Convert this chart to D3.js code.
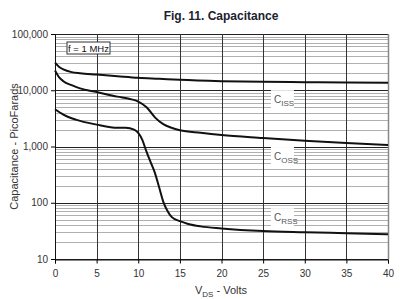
<!DOCTYPE html>
<html>
<head>
<meta charset="utf-8">
<script src="https://cdn.jsdelivr.net/npm/d3@7"></script>
<style>
  body { margin: 0; background: #fff; }
  text { font-family: "Liberation Sans", Arial, sans-serif; }
</style>
</head>
<body>
<div id="chart"></div>
<script>
// Capacitance vs drain-source voltage
var cissV = [0, 0.5, 1, 2, 3, 5, 7.5, 10, 12.5, 15, 20, 25, 30, 35, 40];
var cissC = [31000, 26000, 23500, 21000, 20000, 19000, 17800, 16700, 16000, 15300, 14500, 14100, 13900, 13700, 13600];

var cossV = [0, 0.5, 1, 2, 3, 5, 7.5, 9, 10, 11, 12, 13, 14, 15, 17.5, 20, 25, 30, 35, 40];
var cossC = [22500, 17000, 14500, 12300, 10800, 9300, 7700, 7000, 6300, 5000, 3300, 2500, 2150, 1950, 1750, 1600, 1420, 1270, 1150, 1060];

var crssV = [0, 1, 2.5, 5, 7.5, 8.5, 9.5, 10, 10.5, 11, 11.5, 12, 12.5, 13, 13.5, 14, 15, 16, 17.5, 20, 25, 30, 35, 40];
var crssC = [4600, 3700, 3000, 2450, 2150, 2150, 2000, 1750, 1300, 800, 520, 340, 190, 105, 72, 56, 47, 42, 38, 35, 31.5, 30, 28.8, 27.6];

var xTicks = [0, 5, 10, 15, 20, 25, 30, 35, 40];
var yTicks = [10, 100, 1000, 10000, 100000];

var labels = [
    { name: 'ISS', v: 26.3, c: 5900 },
    { name: 'OSS', v: 26.3, c: 575 },
    { name: 'RSS', v: 26.3, c: 47 }
];

var fullWidth = 400, fullHeight = 299;
var margin = { top: 34, right: 12, bottom: 40, left: 55 };
var width = fullWidth - margin.left - margin.right;
var height = fullHeight - margin.top - margin.bottom;

var svg = d3.select('#chart').append('svg')
    .attr('width', fullWidth)
    .attr('height', fullHeight);

svg.append('text')
    .attr('x', 221)
    .attr('y', 20)
    .attr('text-anchor', 'middle')
    .style('font-size', '12px')
    .style('font-weight', 'bold')
    .style('fill', '#1c2230')
    .text('Fig. 11. Capacitance');

var g = svg.append('g')
    .attr('transform', 'translate(' + margin.left + ',' + margin.top + ')');

var xScale = d3.scaleLinear().domain([0, 40]).range([0, width]);
var yScale = d3.scaleLog().domain([10, 100000]).range([height, 0]);

// minor horizontal grid lines (2..9 per decade)
var minor = [];
yTicks.slice(0, -1).forEach(function (d) {
    for (var k = 2; k <= 9; k++) minor.push(d * k);
});
g.selectAll('line.minor').data(minor).enter().append('line')
    .attr('x1', 0).attr('x2', width)
    .attr('y1', function (d) { return Math.round(yScale(d)) + 0.5; })
    .attr('y2', function (d) { return Math.round(yScale(d)) + 0.5; })
    .style('stroke', '#b0b0b0')
    .style('stroke-width', 1);

// major grid lines
g.selectAll('line.hmaj').data(yTicks).enter().append('line')
    .attr('x1', 0).attr('x2', width)
    .attr('y1', function (d) { return Math.round(yScale(d)) + 0.5; })
    .attr('y2', function (d) { return Math.round(yScale(d)) + 0.5; })
    .style('stroke', '#222')
    .style('stroke-width', 1);

g.selectAll('line.vmaj').data(xTicks).enter().append('line')
    .attr('x1', function (d) { return Math.round(xScale(d)) + 0.5; })
    .attr('x2', function (d) { return Math.round(xScale(d)) + 0.5; })
    .attr('y1', 0).attr('y2', height)
    .style('stroke', function (d) { return d == 40 ? '#888' : '#333'; })
    .style('stroke-width', function (d) { return d == 40 ? 1.5 : 1; });

// label boxes hide the grid
var lab = g.selectAll('g.lab').data(labels).enter().append('g')
    .attr('transform', function (d) {
        return 'translate(' + xScale(d.v) + ',' + yScale(d.c) + ')';
    });
lab.append('rect')
    .attr('x', -3).attr('y', -13)
    .attr('width', 23).attr('height', 19)
    .style('fill', '#fff');
var lt = lab.append('text')
    .attr('x', 0).attr('y', 0)
    .style('font-size', '10px')
    .style('fill', '#555');
lt.append('tspan').text('C');
lt.append('tspan').attr('dy', 3).style('font-size', '8px').text(function (d) { return d.name; });

// curves
var line = d3.line()
    .x(function (d) { return xScale(d[0]); })
    .y(function (d) { return yScale(d[1]); })
    .curve(d3.curveMonotoneX);

[[cissV, cissC], [cossV, cossC], [crssV, crssC]].forEach(function (s) {
    var pts = s[0].map(function (v, i) { return [v, s[1][i]]; });
    g.append('path')
        .datum(pts)
        .attr('d', line)
        .style('fill', 'none')
        .style('stroke', '#111')
        .style('stroke-width', 2);
});

// axes
var xAxis = d3.axisBottom(xScale).tickValues(xTicks).tickSize(4).tickFormat(d3.format('d'));
var yAxis = d3.axisLeft(yScale).tickValues(yTicks).tickSize(4).tickFormat(d3.format(','));

var xAxisEle = g.append('g')
    .attr('transform', 'translate(0,' + (Math.round(height) + 0.5) + ')')
    .call(xAxis);
xAxisEle.select('.domain').style('stroke', '#111');
xAxisEle.selectAll('text').style('font-size', '10px').style('fill', '#333').attr('dy', '1.05em');

var yAxisEle = g.append('g')
    .call(yAxis);
yAxisEle.select('.domain').style('stroke', '#111');
yAxisEle.selectAll('text').style('font-size', '10px').style('fill', '#333');

// frequency box
var fb = g.append('g').attr('transform', 'translate(12,8)');
fb.append('rect')
    .attr('width', 43).attr('height', 12)
    .style('fill', '#fff')
    .style('stroke', '#333')
    .style('stroke-width', 1);
fb.append('text')
    .attr('x', 21.5).attr('y', 9.5)
    .attr('text-anchor', 'middle')
    .style('font-size', '9.5px')
    .style('fill', '#111')
    .text('f = 1 MHz');

// axis titles
svg.append('text')
    .attr('transform', 'translate(18,' + (margin.top + height / 2) + ') rotate(-90)')
    .attr('text-anchor', 'middle')
    .style('font-size', '11px')
    .style('fill', '#333')
    .text('Capacitance - PicoFarads');

var xt = svg.append('text')
    .attr('x', 221)
    .attr('y', 294)
    .attr('text-anchor', 'middle')
    .style('font-size', '11px')
    .style('fill', '#333');
xt.append('tspan').text('V');
xt.append('tspan').attr('dy', 3).style('font-size', '8px').text('DS');
xt.append('tspan').attr('dy', -3).text(' - Volts');
</script>
</body>
</html>
